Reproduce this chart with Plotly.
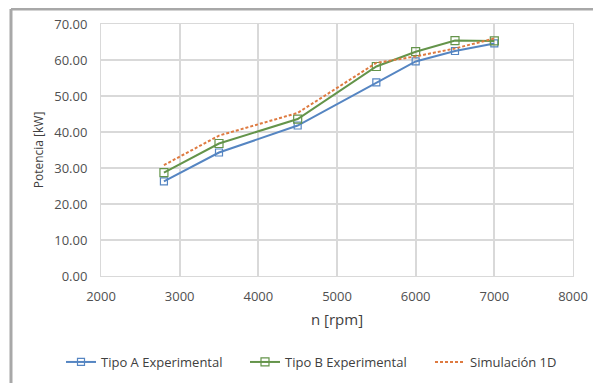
import plotly.graph_objects as go

rpm = [2800, 3500, 4500, 5500, 6000, 6500, 7000]
tipo_a = [26.3, 34.3, 41.8, 53.8, 59.6, 62.5, 64.6]
tipo_b = [28.7, 36.8, 43.6, 58.2, 62.3, 65.4, 65.3]
sim_1d = [30.8, 39.0, 45.3, 59.2, 61.0, 63.2, 66.0]

x_ticks = [2000, 3000, 4000, 5000, 6000, 7000, 8000]
y_ticks = [0, 10, 20, 30, 40, 50, 60, 70]

fig = go.Figure()
fig.add_trace(go.Scatter(
    x=rpm, y=tipo_a, name="Tipo A Experimental", mode="lines+markers",
    line=dict(color="#5585C2", width=2),
    marker=dict(symbol="square-open", size=7, color="#5585C2", line=dict(width=1.2)),
    legend="legend",
))
fig.add_trace(go.Scatter(
    x=rpm, y=tipo_b, name="Tipo B Experimental", mode="lines+markers",
    line=dict(color="#64944A", width=2),
    marker=dict(symbol="square-open", size=8, color="#64944A", line=dict(width=1.2)),
    legend="legend2",
))
fig.add_trace(go.Scatter(
    x=rpm, y=sim_1d, name="Simulación 1D", mode="lines",
    line=dict(color="#DE7A40", width=2, dash="3px,2px"),
    legend="legend3",
))

font_family = "Open Sans, Liberation Sans, sans-serif"
leg_y = (375 - 354) / 375
leg_common = dict(orientation="h", xref="container", yref="container", y=leg_y,
                  xanchor="left", yanchor="middle", font=dict(size=13, color="#404040"))
fig.update_layout(
    width=593, height=375,
    margin=dict(l=93, r=28, t=16, b=107, autoexpand=False),
    paper_bgcolor="white", plot_bgcolor="white",
    font=dict(family=font_family, color="#404040", size=12),
    showlegend=True,
    legend=dict(x=53 / 593, **leg_common),
    legend2=dict(x=237 / 593, **leg_common),
    legend3=dict(x=422 / 593, **leg_common),
    shapes=[
        dict(type="line", xref="paper", yref="paper", x0=-0.1907, x1=-0.1907, y0=-0.45, y1=1.06,
             line=dict(color="#A8A8A8", width=3)),
        dict(type="line", xref="paper", yref="paper", x0=-0.1907, x1=1.05, y0=1.06, y1=1.06,
             line=dict(color="#A8A8A8", width=3)),
        dict(type="line", xref="paper", yref="paper", x0=1.051, x1=1.051, y0=-0.45, y1=1.06,
             line=dict(color="#EBEBEB", width=1)),
    ],
)
fig.update_xaxes(
    range=[2000, 8000], tickvals=x_ticks, ticktext=[str(v) for v in x_ticks],
    showgrid=True, gridcolor="#D9D9D9", gridwidth=1.5,
    showline=True, linecolor="#D9D9D9", mirror=True, zeroline=False,
    ticks="", ticklabelstandoff=8, tickfont=dict(size=13, color="#505050"),
    title=dict(text="n [rpm]", font=dict(size=15, color="#404040"), standoff=10),
)
fig.update_yaxes(
    range=[0, 70], tickvals=y_ticks, ticktext=[f"{v:.2f}" for v in y_ticks],
    showgrid=True, gridcolor="#D9D9D9", gridwidth=1.5,
    showline=True, linecolor="#D9D9D9", mirror=True, zeroline=False,
    ticks="", ticklabelstandoff=10, tickfont=dict(size=13, color="#505050"),
    title=dict(text="Potencia [kW]", font=dict(size=12, color="#404040"), standoff=8),
)

fig.write_html("out.html")
